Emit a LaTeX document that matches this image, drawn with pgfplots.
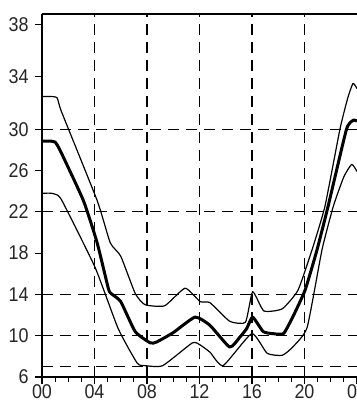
\documentclass[border=0pt]{standalone}
\usepackage{pgfplots}
\pgfplotsset{compat=1.18}
\usepackage{fontspec}
\setmainfont{Liberation Sans}[FakeStretch=0.9]

\pgfplotstableread{
h v
0 32.5
0.6 32.5
1.15 32.4
1.5 31.3
4.2 23.1
5.2 19.0
6.0 17.7
7.1 14.1
7.85 13.0
9.35 12.9
10.9 14.6
12.05 13.3
12.8 13.2
14.3 11.4
15.5 11.3
16.05 14.26
16.9 12.4
18.3 12.6
19.5 14.4
20.57 18.3
21.56 22.55
22.7 30.0
23.3 32.4
23.7 33.5
24 33.1
}\uptab

\pgfplotstableread{
h v
0 28.85
0.6 28.85
1.0 28.75
1.4 27.9
3.15 23.1
4.2 19.0
5.05 14.6
5.25 14.1
6.0 13.3
7.1 10.4
8.25 9.3
8.75 9.4
10.0 10.3
11.66 11.8
12.8 11.0
14.3 8.9
15.1 9.9
15.6 10.7
16.05 11.8
16.85 10.4
17.6 10.2
18.4 10.2
19.1 11.8
20.04 14.4
20.95 18.3
21.8 22.55
23.2 30.0
23.75 30.7
24 30.6
}\meantab

\pgfplotstableread{
h v
0 23.8
0.7 23.8
1.2 23.6
1.6 22.9
4.05 16.6
5.8 10.7
7.25 7.35
7.85 7.1
9.2 7.1
11.45 9.3
12.05 9.1
12.8 8.4
13.8 7.1
15.98 10.2
17.15 8.3
18.3 8.1
19.1 8.9
20.2 10.8
21.33 18.3
22.2 22.55
23.0 25.4
23.6 26.6
24 25.9
}\lowtab

\begin{document}
\begin{tikzpicture}
\begin{axis}[
  scale only axis, width=315bp, height=363bp,
  xmin=0, xmax=24, ymin=6, ymax=38.8,
  y coord trafo/.code={\pgfmathparse{(#1<30)*(#1)+(#1>=30)*(30+1.268*((#1)-30))}},
  y coord inv trafo/.code={\pgfmathparse{(#1<30)*(#1)+(#1>=30)*(30+((#1)-30)/1.268)}},
  axis x line*=box, axis y line*=left,
  axis line style={black, line width=1.2bp},
  xtick pos=left, ytick pos=left,
  tick align=outside,
  major tick length=7bp, minor tick length=4.5bp,
  tick style={black, line width=1.1bp},
  xtick={0,4,8,12,16,20,24},
  xticklabels={00,04,08,12,16,20,00},
  ytick={6,10,14,18,22,26,30,34,38},
  yticklabels={6,10,14,18,22,26,30,34,38},
  minor x tick num=3, minor y tick num=3,
  tick label style={font=\fontsize{20}{22}\selectfont, text=black!85},
  yticklabel style={xshift=-3bp},
  xticklabel style={yshift=2.5bp},
  extra x ticks={4,8,12,16,20}, extra x tick labels={},
  extra y ticks={7,10,14,22,30}, extra y tick labels={},
  extra x tick style={grid=major, major tick length=0pt},
  extra y tick style={grid=major, major tick length=0pt},
  major grid style={black, line width=1.1bp, dash pattern=on 11bp off 7bp},
  clip=true,
]
\addplot[black, line width=1.2bp, smooth, tension=0.3, line join=round] table[x=h,y=v] {\uptab};
\addplot[black, line width=3bp, smooth, tension=0.3, line join=round] table[x=h,y=v] {\meantab};
\addplot[black, line width=1.2bp, smooth, tension=0.3, line join=round] table[x=h,y=v] {\lowtab};
\end{axis}
\pgfresetboundingbox
\path ([shift={(-42bp,-26bp)}]current axis.south west) rectangle ([shift={(0bp,14bp)}]current axis.north east);
\end{tikzpicture}
\end{document}
